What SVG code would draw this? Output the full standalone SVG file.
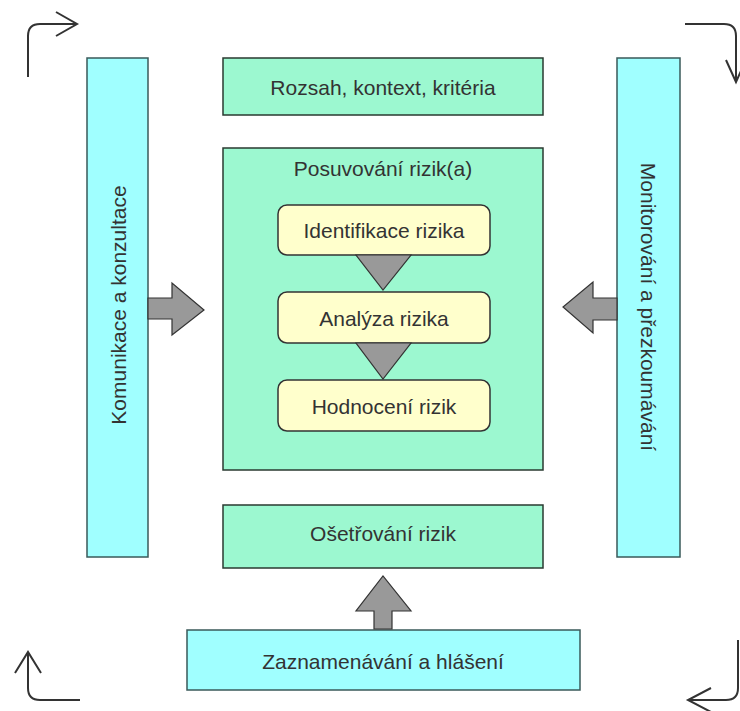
<svg xmlns="http://www.w3.org/2000/svg" width="740" height="711" viewBox="0 0 740 711">
<style>
.cyan{fill:#a0ffff;stroke:#3a5a5a;stroke-width:1.5}
.green{fill:#9cf8d0;stroke:#2a3a30;stroke-width:1.5}
.yellow{fill:#ffffcc;stroke:#333;stroke-width:1.5}
.blk{fill:#999;stroke:#333;stroke-width:1.2;stroke-linejoin:miter}
.t{font-family:"Liberation Sans",Arial,sans-serif;font-size:21px;fill:#333;text-anchor:middle;dominant-baseline:central}
.ln{fill:none;stroke:#333;stroke-width:2}
</style>
<rect width="740" height="711" fill="#fff"/>
<g id="komunikace"><rect class="cyan" x="87" y="58" width="61" height="499"/><text class="t" transform="translate(118,305) rotate(-90)">Komunikace a konzultace</text></g>
<g id="monitorovani"><rect class="cyan" x="617" y="58" width="63" height="499"/><text class="t" transform="translate(648,307) rotate(90)">Monitorování a přezkoumávání</text></g>
<g id="rozsah"><rect class="green" x="223" y="58" width="320" height="57"/><text class="t" x="383" y="87">Rozsah, kontext, kritéria</text></g>
<g id="posuvovani"><rect class="green" x="223" y="148" width="320" height="322"/><text class="t" x="383" y="168">Posuvování rizik(a)</text></g>
<g id="identifikace"><rect class="yellow" x="278" y="205" width="212" height="50" rx="9"/><text class="t" x="384" y="230">Identifikace rizika</text></g>
<g id="analyza"><rect class="yellow" x="278" y="292" width="212" height="51" rx="9"/><text class="t" x="384" y="318">Analýza rizika</text></g>
<g id="hodnoceni"><rect class="yellow" x="278" y="380" width="212" height="51" rx="9"/><text class="t" x="384" y="406">Hodnocení rizik</text></g>
<g id="osetrovani"><rect class="green" x="223" y="505" width="320" height="63"/><text class="t" x="383" y="533">Ošetřování rizik</text></g>
<g id="zaznamenavani"><rect class="cyan" x="187" y="630" width="393" height="60"/><text class="t" x="383" y="661">Zaznamenávání a hlášení</text></g>
<g id="connectors">
<polygon class="blk" points="356,255 411,255 383,290"/>
<polygon class="blk" points="356,343 411,343 383,379"/>
<polygon class="blk" points="148,298 172,298 172,283 204,310 172,335 172,319 148,319"/>
<polygon class="blk" points="617,298 593,298 593,282 563,307 593,333 593,320 617,320"/>
<polygon class="blk" points="374,629 374,611 356,611 383,576 411,611 392,611 392,629"/>
<path class="ln" d="M28,77 V36 Q28,24 40,24 H77 M56,12 L77,24 L56,36"/>
<path class="ln" d="M685,24 H724 Q736,24 736,36 V82 M726,60 L736,82 L746,60"/>
<path class="ln" d="M28,652 V688 Q28,700 40,700 H80 M15,673 L28,652 L41,673"/>
<path class="ln" d="M738,640 V688 Q738,700 726,700 H688 M711,688 L688,700 L711,712"/>
</g>
</svg>
